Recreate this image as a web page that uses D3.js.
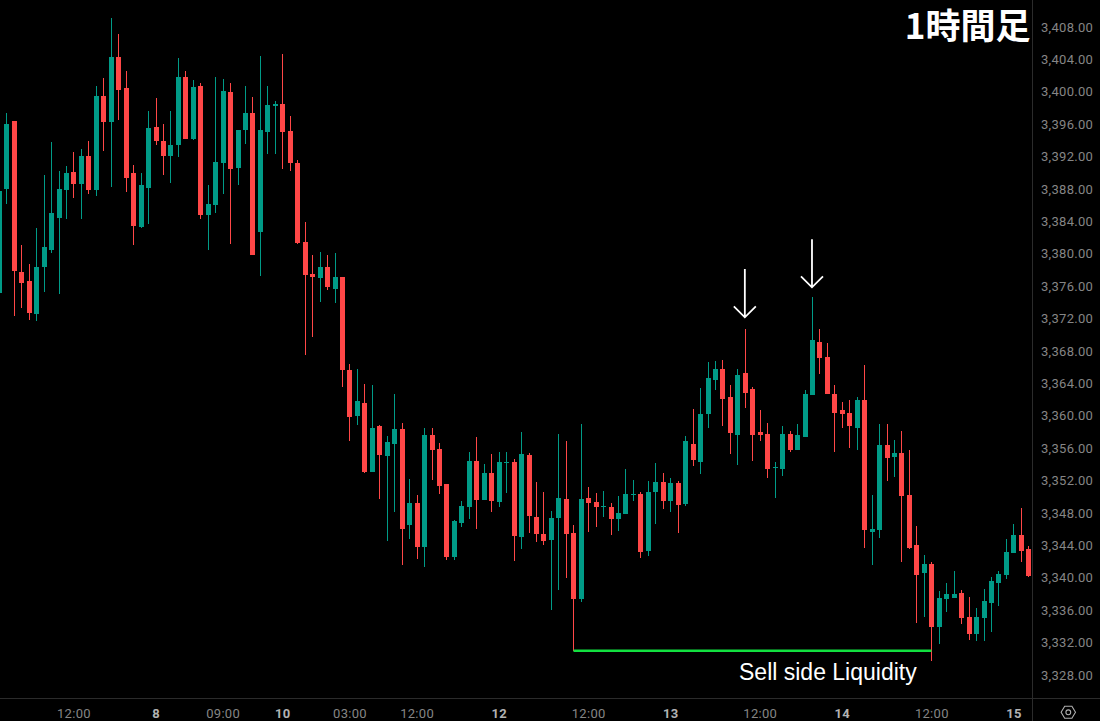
<!DOCTYPE html>
<html><head><meta charset="utf-8">
<script src="https://cdn.jsdelivr.net/npm/d3@7"></script>
<style>html,body{margin:0;padding:0;background:#000;overflow:hidden}svg{display:block}</style>
</head><body><svg id="c" width="1100" height="721"></svg>
<script>
const title = "1時間足";
const annotation = "Sell side Liquidity";
const opens = [3375.16,3388.00,3396.39,3377.75,3376.64,3372.56,3378.37,3380.47,3384.42,3387.87,3390.10,3388.61,3392.07,3387.87,3399.48,3396.27,3404.29,3400.47,3389.97,3383.31,3388.12,3395.65,3393.92,3392.07,3393.43,3401.82,3394.17,3400.71,3384.79,3386.02,3391.21,3399.97,3390.59,3395.28,3397.38,3382.69,3395.03,3398.24,3398.49,3395.16,3391.21,3381.45,3377.50,3377.01,3378.37,3375.65,3377.13,3365.65,3359.97,3361.58,3353.06,3358.74,3355.03,3356.51,3358.37,3346.51,3349.23,3343.80,3357.63,3355.90,3351.58,3342.56,3346.76,3348.74,3354.42,3349.60,3352.93,3349.35,3354.17,3354.29,3345.03,3355.16,3347.50,3345.40,3344.66,3347.38,3349.72,3345.53,3337.38,3349.85,3349.35,3348.74,3348.74,3347.25,3347.87,3350.22,3350.34,3343.30,3350.59,3351.82,3349.48,3351.70,3349.11,3356.51,3354.29,3360.22,3364.41,3365.77,3362.32,3357.62,3365.28,3363.30,3357.99,3357.75,3353.55,3353.43,3357.75,3355.77,3357.38,3362.56,3369.11,3367.25,3362.69,3360.71,3360.34,3358.49,3361.95,3345.65,3345.90,3356.39,3354.91,3355.40,3350.22,3344.04,3340.59,3341.70,3333.92,3337.38,3337.50,3338.12,3335.16,3333.06,3335.03,3336.88,3339.35,3340.34,3343.06,3345.28,3343.55];
const highs = [3387.75,3397.38,3396.39,3381.08,3378.74,3383.18,3389.73,3393.80,3390.22,3390.84,3392.56,3392.93,3393.92,3400.71,3401.70,3409.11,3407.13,3402.56,3390.96,3389.97,3397.63,3399.23,3396.02,3397.63,3404.17,3402.56,3401.45,3401.08,3388.49,3401.82,3401.58,3401.08,3395.28,3400.71,3399.35,3404.42,3400.71,3398.86,3404.66,3397.01,3391.58,3383.92,3379.85,3380.22,3379.85,3380.10,3377.13,3366.39,3365.77,3363.92,3363.80,3358.86,3357.50,3362.69,3359.11,3352.19,3350.22,3358.49,3358.49,3356.64,3351.58,3347.13,3349.48,3355.53,3357.38,3354.04,3355.28,3355.53,3355.53,3354.66,3358.00,3355.40,3351.82,3350.59,3348.24,3357.75,3356.88,3346.51,3358.98,3351.21,3350.46,3350.71,3349.23,3350.09,3353.43,3352.07,3350.59,3351.95,3354.17,3352.93,3352.32,3351.95,3357.50,3360.83,3363.43,3366.64,3366.76,3366.88,3363.80,3365.77,3370.71,3363.55,3360.71,3359.11,3354.29,3358.74,3358.12,3358.98,3363.18,3374.66,3370.71,3368.98,3363.80,3361.70,3361.95,3362.32,3366.27,3350.22,3358.98,3358.98,3357.01,3358.12,3355.77,3346.39,3342.81,3341.95,3338.36,3339.35,3340.83,3338.49,3337.62,3336.27,3338.61,3340.09,3340.83,3344.78,3346.64,3348.61,3343.92];
const lows = [3375.16,3386.14,3372.32,3373.31,3371.82,3371.70,3375.28,3380.10,3375.03,3384.29,3386.89,3384.29,3387.38,3387.13,3392.69,3388.24,3396.52,3387.63,3381.08,3383.18,3383.68,3393.43,3389.73,3388.74,3391.95,3394.17,3394.05,3384.29,3380.47,3385.03,3387.38,3381.21,3388.49,3393.55,3379.85,3377.26,3392.32,3392.32,3390.47,3390.22,3381.21,3367.50,3369.73,3374.05,3375.53,3373.92,3363.55,3356.88,3358.86,3352.93,3353.06,3349.72,3344.54,3348.12,3341.58,3344.79,3342.32,3341.33,3352.07,3350.34,3342.19,3342.19,3346.27,3347.25,3346.02,3349.60,3348.12,3348.74,3350.46,3342.07,3343.55,3345.53,3344.42,3344.04,3336.02,3338.49,3339.97,3330.96,3337.01,3345.65,3346.27,3347.50,3345.28,3345.77,3347.87,3349.48,3342.44,3342.69,3346.64,3348.49,3348.12,3345.53,3348.86,3353.80,3352.81,3358.49,3363.18,3358.74,3355.28,3353.92,3360.96,3354.41,3356.88,3352.32,3349.85,3352.56,3355.53,3355.77,3357.38,3362.56,3365.16,3362.69,3355.53,3358.49,3356.02,3355.77,3343.67,3341.57,3344.91,3351.95,3352.44,3341.95,3343.55,3334.41,3335.16,3329.72,3331.82,3335.77,3337.50,3334.29,3332.32,3332.19,3332.19,3333.30,3336.51,3339.85,3343.06,3341.95,3340.09];
const closes = [3387.75,3396.02,3377.87,3376.39,3372.69,3378.37,3380.84,3385.03,3388.00,3389.97,3388.61,3392.07,3387.87,3399.48,3396.27,3404.29,3400.22,3389.35,3383.43,3388.49,3395.53,3393.92,3392.07,3393.43,3401.82,3394.17,3400.59,3384.79,3386.14,3391.33,3400.10,3390.47,3395.28,3397.38,3379.85,3395.28,3398.37,3398.49,3395.03,3391.21,3381.33,3377.38,3377.13,3378.37,3375.90,3377.13,3365.65,3359.85,3361.82,3353.06,3358.49,3355.16,3356.76,3358.37,3346.02,3349.23,3343.80,3357.63,3355.77,3351.33,3342.56,3347.01,3348.86,3354.42,3349.60,3352.93,3349.48,3354.29,3354.29,3345.16,3355.28,3347.63,3345.40,3344.54,3347.38,3349.85,3345.40,3337.38,3349.72,3349.23,3348.74,3348.86,3347.25,3348.00,3350.34,3350.34,3343.18,3350.59,3351.82,3349.48,3351.70,3348.98,3356.88,3354.54,3360.22,3364.66,3365.77,3362.07,3357.87,3365.03,3362.81,3357.62,3357.62,3353.43,3353.67,3357.75,3355.77,3357.62,3362.69,3369.35,3367.13,3362.69,3360.34,3360.22,3358.74,3361.95,3345.90,3346.02,3356.39,3354.78,3355.40,3350.09,3343.67,3340.34,3341.70,3333.92,3337.50,3337.99,3337.99,3335.03,3333.06,3335.16,3337.13,3339.60,3340.46,3343.18,3345.28,3343.30,3340.22];

const priceTicks = [3408,3404,3400,3396,3392,3388,3384,3380,3376,3372,3368,3364,3360,3356,3352,3348,3344,3340,3336,3332,3328];
const timeTickBars = [10,21,30,38,47,56,67,79,90,102,113,125,136];
const timeTickLabels = ["12:00","8","09:00","10","03:00","12:00","12","12:00","13","12:00","14","12:00","15"];
const dayLabels = ["8","10","12","13","14","15"];
const liquidityLevel = 3331.0, liquidityFrom = 77, liquidityTo = 125;
const arrowBars = [100, 109];
const arrowTipPrices = [3372.16, 3375.86];
const arrowTailPrices = [3378.12, 3381.79];

const W = 1100, H = 721, plotR = 1032, plotB = 698;
const GREEN = "#009b87", RED = "#ff4747", GRID = "#2b2b2b", TXT = "#858585";

const svg = d3.select("#c");
svg.append("rect").attr("width",W).attr("height",H).attr("fill","#000");
const x = d3.scaleLinear().domain([0,138]).range([-1.16,1028.32]);
const y = d3.scaleLinear().domain([3408,3328]).range([27,675]);
const cx = i => Math.round(x(i)) + 0.5;

svg.append("clipPath").attr("id","plot").append("rect").attr("width",plotR).attr("height",plotB);
const g = svg.append("g").attr("clip-path","url(#plot)").attr("shape-rendering","crispEdges");
const candles = g.selectAll("g.k").data(opens.map((o,i)=>({i,o,h:highs[i],l:lows[i],c:closes[i]}))).join("g").attr("class","k");
candles.append("line").attr("x1",d=>cx(d.i)).attr("x2",d=>cx(d.i))
  .attr("y1",d=>y(d.h)).attr("y2",d=>y(d.l))
  .attr("stroke",d=>d.c>=d.o?GREEN:RED).attr("stroke-width",1);
candles.append("rect").attr("x",d=>cx(d.i)-2.5).attr("width",5)
  .attr("y",d=>y(Math.max(d.o,d.c))).attr("height",d=>Math.max(1,Math.abs(y(d.o)-y(d.c))))
  .attr("fill",d=>d.c>=d.o?GREEN:RED);

// liquidity line
svg.append("line").attr("x1",cx(liquidityFrom)).attr("x2",cx(liquidityTo))
  .attr("y1",y(liquidityLevel)).attr("y2",y(liquidityLevel))
  .attr("stroke","#12e040").attr("stroke-width",2.4);
svg.append("text").text(annotation).attr("x",739).attr("y",679.5)
  .attr("fill","#fff").attr("font-family","'Liberation Sans',Arial,sans-serif").attr("font-size",23);

// arrows
arrowBars.forEach((b,k)=>{
  const ax = x(b), tip = y(arrowTipPrices[k]), tail = y(arrowTailPrices[k]);
  svg.append("path").attr("d",`M${ax},${tail}V${tip}M${ax-11},${tip-11}L${ax},${tip}L${ax+11},${tip-11}`)
    .attr("fill","none").attr("stroke","#fff").attr("stroke-width",1.8);
});

// frame lines
svg.append("line").attr("x1",plotR+0.5).attr("x2",plotR+0.5).attr("y1",0).attr("y2",H).attr("stroke",GRID);
svg.append("line").attr("x1",0).attr("x2",W).attr("y1",plotB+0.5).attr("y2",plotB+0.5).attr("stroke",GRID);

// axes
const yAxis = d3.axisRight(y).tickValues(priceTicks).tickSize(0).tickPadding(9).tickFormat(d3.format(",.2f"));
const ya = svg.append("g").attr("transform",`translate(${plotR},-0.1)`).call(yAxis);
ya.select(".domain").remove();
ya.selectAll("text").attr("fill",TXT).attr("font-family","Roboto,sans-serif").attr("font-size",13).attr("letter-spacing",0.3);

const xAxis = d3.axisBottom(x).tickValues(timeTickBars).tickSize(0).tickPadding(10.5)
  .tickFormat((d,i)=>timeTickLabels[i]);
const xa = svg.append("g").attr("transform",`translate(0,${plotB})`).call(xAxis);
xa.select(".domain").remove();
xa.selectAll("text").attr("font-family","Roboto,sans-serif").attr("font-size",13).attr("letter-spacing",0.3)
  .attr("fill",d=>dayLabels.includes(timeTickLabels[timeTickBars.indexOf(d)])?"#b2b2b2":TXT)
  .attr("font-weight",d=>dayLabels.includes(timeTickLabels[timeTickBars.indexOf(d)])?700:400);

// settings icon
const hex = d3.range(6).map(i=>{const a=i*Math.PI/3; return [1068.3+7.2*Math.cos(a),712.3+6.9*Math.sin(a)];});
svg.append("path").attr("d",d3.line()(hex)+"Z").attr("fill","none").attr("stroke","#b0b0b0").attr("stroke-width",1.1);
svg.append("circle").attr("cx",1068.3).attr("cy",712.3).attr("r",2.4).attr("fill","none").attr("stroke","#b0b0b0").attr("stroke-width",1.1);

// title
svg.append("text").text(title).attr("x",1030.5).attr("y",38.5).attr("text-anchor","end")
  .attr("fill","#fff").attr("font-family","'Noto Sans CJK JP',sans-serif").attr("font-weight",700).attr("font-size",35);
</script></body></html>
